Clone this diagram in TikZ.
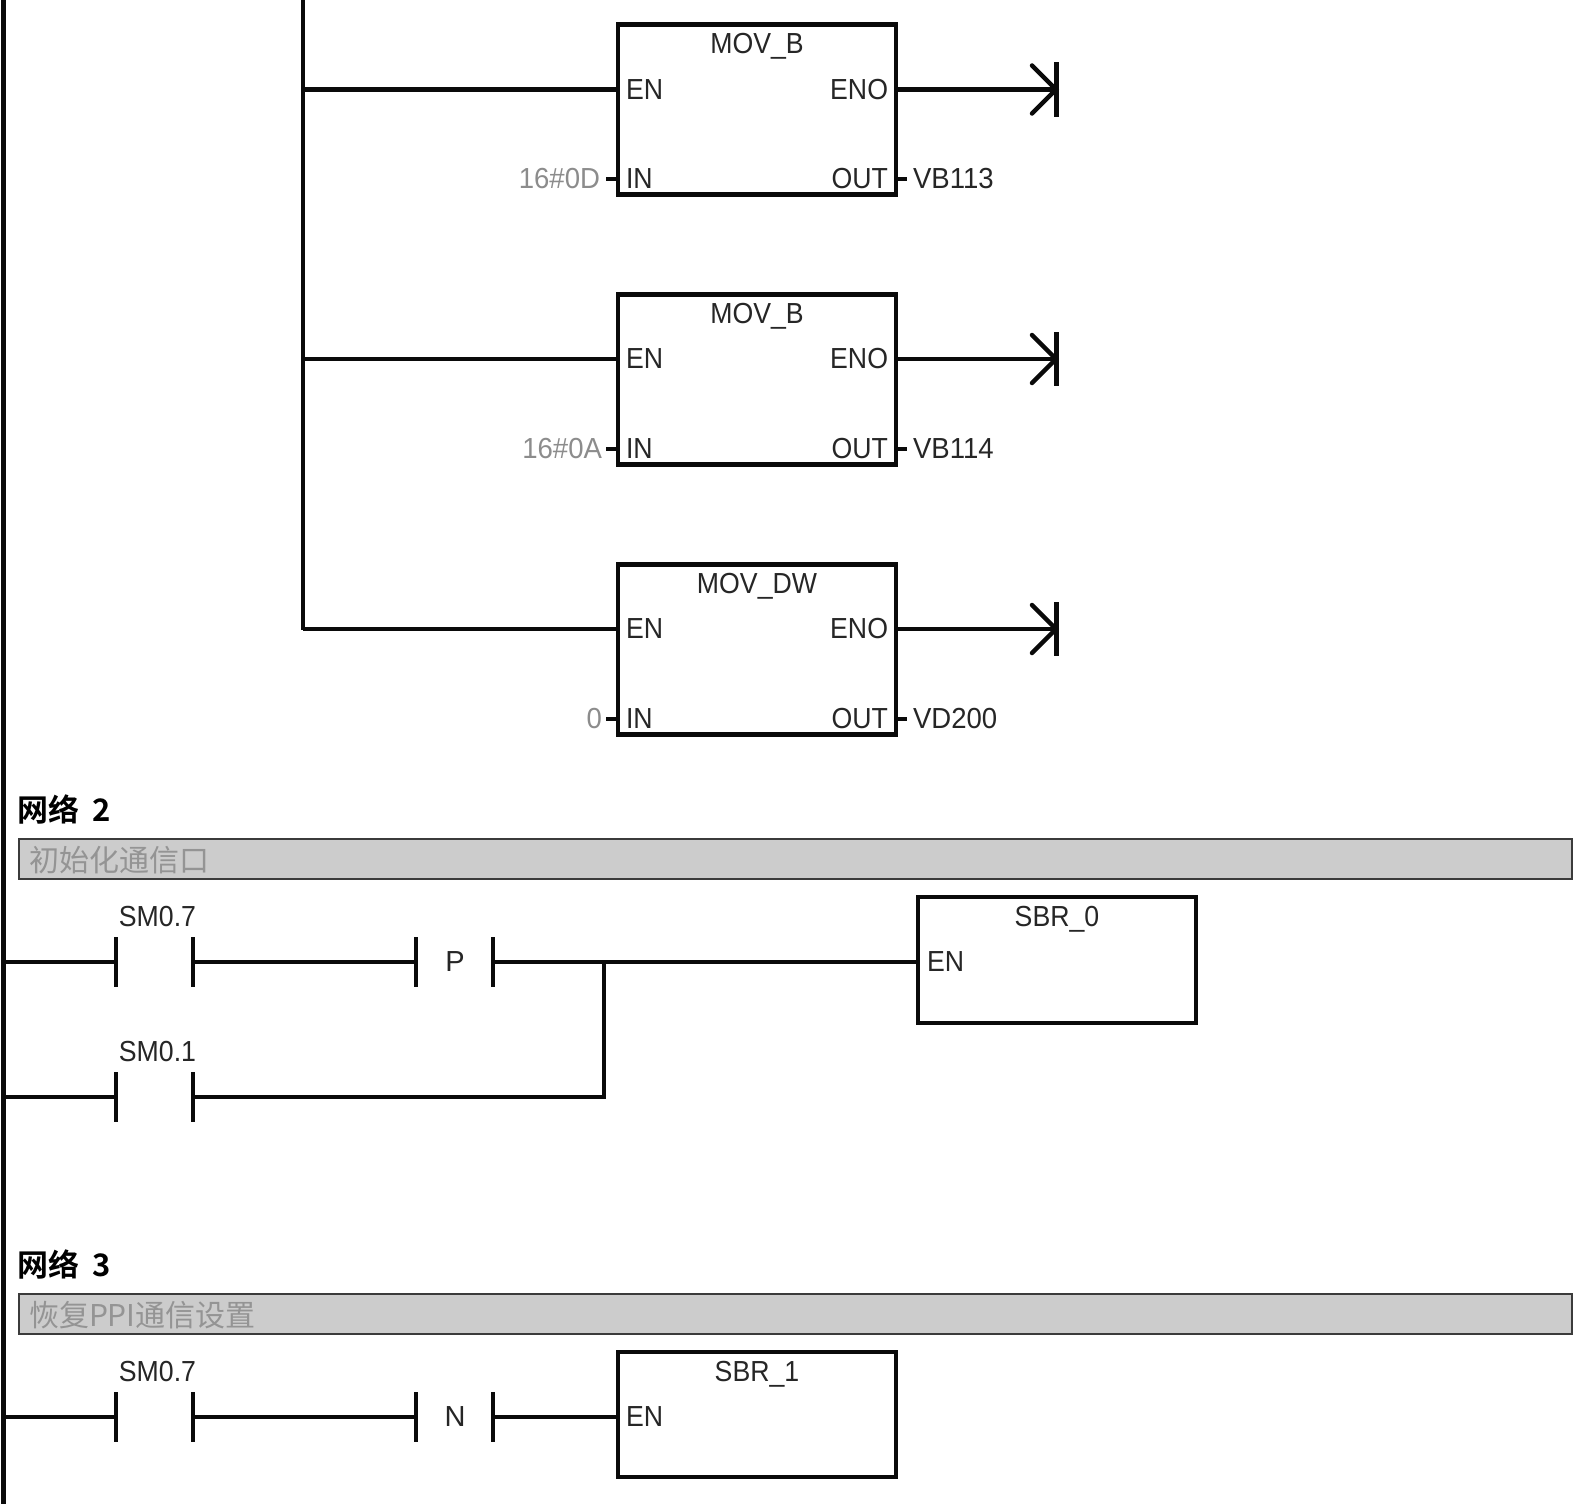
\documentclass[tikz,border=0pt]{standalone}
\usepackage{fontspec}
\setmainfont{Liberation Sans}
\newfontfamily\cjk{Noto Sans CJK SC}
\newfontfamily\cjkbold{Noto Sans CJK SC Bold}
\usetikzlibrary{calc}
\definecolor{lineblack}{gray}{0.04}
\definecolor{valgray}{gray}{0.55}
\definecolor{barfill}{gray}{0.80}
\definecolor{bartext}{gray}{0.58}
\tikzset{
  every node/.style={inner sep=0pt,outer sep=0pt,text=black!85,font=\fontsize{29}{29}\selectfont},
  wire/.style={draw=lineblack,line width=4.5pt},
  block/.style={draw=lineblack,line width=4.5pt,fill=white,minimum width=278pt},
  plate/.style={fill=lineblack,minimum width=4.5pt,minimum height=50pt},
  coilplate/.style={fill=lineblack,minimum width=5pt,minimum height=54pt},
  rail/.style={fill=lineblack,minimum width=4.5pt,minimum height=1504pt},
  pin/.style={anchor=west,xscale=0.92},
  pinr/.style={anchor=east,xscale=0.92},
  val/.style={anchor=east,xscale=0.95,text=valgray},
  addr/.style={anchor=west,xscale=0.95},
  ttl/.style={anchor=center,xscale=0.92},
  nethead/.style={anchor=west,font=\fontsize{31}{31}\selectfont\cjkbold,text=black},
  combar/.style={draw=lineblack!80,line width=2pt,fill=barfill,minimum height=40pt,minimum width=1553pt,anchor=north west},
  comtext/.style={anchor=west,text=bartext,font=\fontsize{30}{30}\selectfont\cjk},
}
% move box with EN/ENO/IN/OUT pins, and its end coil
\newcommand{\movebox}[8]{%
  % #1 name, #2 top y, #3 title, #4 input value, #5 output addr, #6 EN y, #7 IN y, #8 value right edge
  \node[block,minimum height=170pt,anchor=north west] (#1) at (618,#2) {};
  \node[ttl] (#1t) at ($(#1.north)+(0,22)$) {#3};
  \node[pin] (#1en) at (626,#6) {EN};
  \node[pinr] (#1eno) at (888,#6) {ENO};
  \node[pin] (#1in) at (626,#7) {IN};
  \node[pinr] (#1out) at (888,#7) {OUT};
  \node[val] (#1val) at (#8,#7) {#4};
  \node[addr] (#1adr) at (913,#7) {#5};
  \node[coilplate] (#1coil) at (1056,#6) {};
  \coordinate (#1src) at (303,#6);
  \coordinate (#1up) at (1032,#6-24);
  \coordinate (#1dn) at (1032,#6+24);
  \draw[wire] (#1src) -- (#1.west |- #1src);
  \draw[wire] (#1.east |- #1src) -- (#1coil.center);
  \draw[wire,line cap=round] (#1up) -- (#1coil.center) -- (#1dn);
  \draw[wire] ($(#1.west |- #1in)+(-12,0)$) -- (#1.west |- #1in);
  \draw[wire] (#1.east |- #1in) -- ($(#1.east |- #1in)+(11,0)$);
}
% normally open contact: two plates and a label
\newcommand{\contact}[5]{%
  % #1 name, #2 left x, #3 right x, #4 y, #5 label
  \node[plate] (#1l) at (#2,#4) {};
  \node[plate] (#1r) at (#3,#4) {};
  \node[xscale=0.92] (#1t) at ($(#1l)!0.5!(#1r)+(3,-45)$) {#5};
}
\begin{document}
\begin{tikzpicture}[x=1pt,y=-1pt]
  \useasboundingbox[fill=white] (0,0) rectangle (1574,1504);

  % power rail
  \node[rail,anchor=north] (rail) at (3.5,0) {};

  % branch feeding the move boxes
  \coordinate (bustop) at (303,0);
  \coordinate (busend) at (303,630);

  \movebox{mova}{24.5}{MOV\_B}{16\#0D}{VB113}{89.5}{179}{600}
  \movebox{movb}{294.5}{MOV\_B}{16\#0A}{VB114}{359}{449}{602}
  \movebox{movc}{564.5}{MOV\_DW}{0}{VD200}{629}{719}{602}
  \draw[wire] (bustop) -- (busend);

  % network 2
  \node[nethead] (net2) at (17,809) {网络\hspace{14pt}2};
  \node[combar] (bar2) at (19,839) {};
  \node[comtext] (com2) at (29,860) {初始化通信口};

  \contact{ca}{116}{193}{962}{SM0.7}
  \node (pl) at (455,962) {P};
  \node[plate] (pa) at (416,962) {};
  \node[plate] (pb) at (493,962) {};
  \contact{cb}{116}{193}{1097}{SM0.1}
  \node[block,minimum height=126pt,anchor=north west] (sbra) at (918,897) {};
  \node[ttl] at ($(sbra.north)+(0,22)$) (sbrat) {SBR\_0};
  \node[pin] (sbraen) at (927,962) {EN};
  \coordinate (join) at (604,962);

  \draw[wire] (rail.east |- cal) -- (cal);
  \draw[wire] (car) -- (pa);
  \draw[wire] (pb) -- (sbra.west |- pb);
  \draw[wire] (rail.east |- cbl) -- (cbl);
  \draw[wire] (cbr) -| (join);

  % network 3
  \node[nethead] (net3) at (17,1264) {网络\hspace{14pt}3};
  \node[combar] (bar3) at (19,1293.5) {};
  \node[comtext] (com3) at (29,1315) {恢复PPI通信设置};

  \contact{cc}{116}{193}{1417}{SM0.7}
  \node (nl) at (455,1417) {N};
  \node[plate] (na) at (416,1417) {};
  \node[plate] (nb) at (493,1417) {};
  \node[block,minimum height=125pt,anchor=north west] (sbrb) at (618,1352) {};
  \node[ttl] at ($(sbrb.north)+(0,22)$) (sbrbt) {SBR\_1};
  \node[pin] (sbrben) at (626,1417) {EN};

  \draw[wire] (rail.east |- ccl) -- (ccl);
  \draw[wire] (ccr) -- (na);
  \draw[wire] (nb) -- (sbrb.west |- nb);
\end{tikzpicture}
\end{document}
